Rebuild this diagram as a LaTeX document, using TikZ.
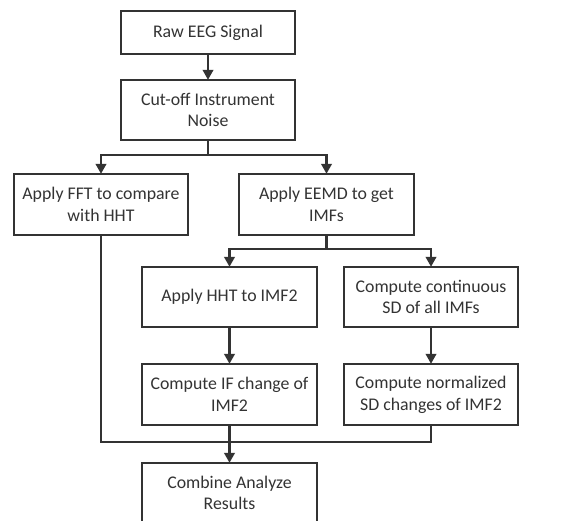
\documentclass[tikz,border=0pt]{standalone}
\usepackage{fontspec}
\setmainfont{Carlito}
\usetikzlibrary{arrows.meta}
\definecolor{ink}{HTML}{333333}
\begin{document}
\begin{tikzpicture}[x=1pt,y=-1pt,
  box/.style={draw=ink, line width=2.4pt, text=ink, align=center, inner sep=2pt,
    minimum width=174pt, font=\fontsize{17.8}{21.7}\selectfont},
  conn/.style={draw=ink, line width=2.4pt},
  arr/.style={conn, -{Triangle[width=10.5pt,length=10pt]}, shorten >=-1pt}]
\useasboundingbox (0,0) rectangle (564,521);
\clip (0,0) rectangle (564,521);
\fill[white] (0,0) rectangle (564,521);
\node[box, minimum height=43pt] (raw) at (208,32.5) {Raw EEG Signal};
\node[box, minimum height=60pt] (cut) at (208,110) {Cut-off Instrument\\Noise};
\node[box, minimum height=61pt] (fft) at (101,204.5) {Apply FFT to compare\\with HHT};
\node[box, minimum height=61pt, minimum width=175pt] (eemd) at (326.5,204.5) {Apply EEMD to get\\IMFs};
\node[box, minimum height=60pt, minimum width=175pt] (hht) at (229.5,297) {Apply HHT to IMF2};
\node[box, minimum height=60pt] (sd) at (431,297) {Compute continuous\\SD of all IMFs};
\node[box, minimum height=61pt, minimum width=175pt] (ifc) at (229.5,394.5) {Compute IF change of\\IMF2};
\node[box, minimum height=61pt] (nsd) at (431,394.5) {Compute normalized\\SD changes of IMF2};
\node[box, minimum height=60pt, minimum width=175pt] (comb) at (229.5,493) {Combine Analyze\\Results};
\coordinate (b1) at (208,155);
\coordinate (b2) at (326.5,249);
\coordinate (m) at (229.5,442);
\draw[arr] (raw.south) -- (cut.north);
\draw[conn] (cut.south) -- (b1);
\draw[arr] (b1) -| (fft.north);
\draw[arr] (b1) -| (eemd.north);
\draw[conn] (eemd.south) -- (b2);
\draw[arr] (b2) -| (hht.north);
\draw[arr] (b2) -| (sd.north);
\draw[arr] (hht.south) -- (ifc.north);
\draw[arr] (sd.south) -- (nsd.north);
\draw[conn] (fft.south) |- (m);
\draw[conn] (nsd.south) |- (m);
\draw[conn] (ifc.south) -- (m);
\draw[arr] (m) -- (comb.north);
\end{tikzpicture}
\end{document}
